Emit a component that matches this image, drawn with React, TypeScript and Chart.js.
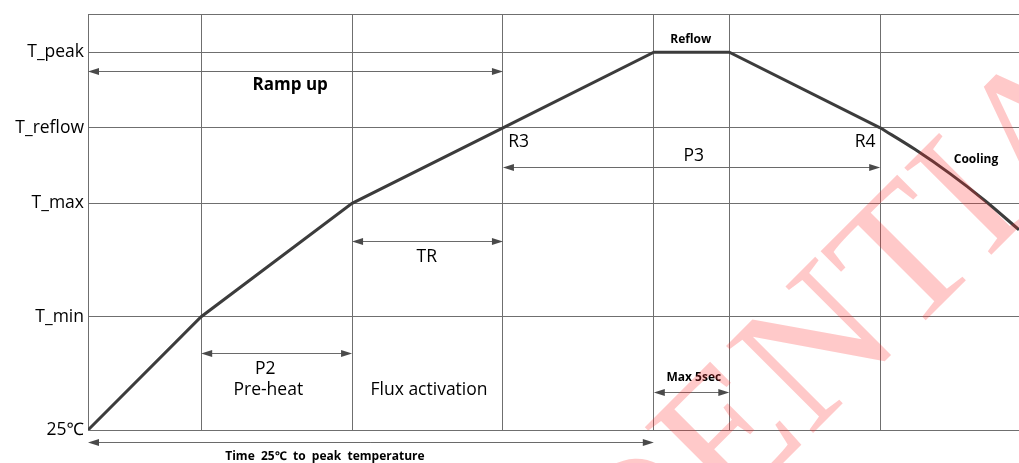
import { useEffect, useRef } from "react";
import { Chart, registerables } from "chart.js";
Chart.register(...registerables);

// Time axis (arbitrary units) — vertical grid positions
const xGrid = [0, 1.5, 3.5, 5.5, 7.5, 8.5, 10.5];
const xMax = 12.34;
// Temperature axis levels and labels
const yTicks = [0, 3, 6, 8, 10, 11];
const yLabels = ["25℃", "T_min", "T_max", "T_reflow", "T_peak", ""];
// Reflow profile (straight segments)
const profileX = [0, 1.5, 3.5, 5.5, 7.5, 8.5, 10.5];
const profileY = [0, 3, 6, 8, 10, 10, 8];
// Cooling curve
const coolingX = [10.5, 10.96, 11.43, 11.89, 12.34];
const coolingY = [8, 7.43, 6.78, 6.07, 5.3];
// Double-headed arrows: [x from, x to, y]
const arrowFrom = [0, 5.5, 3.5, 1.5, 7.5, 0];
const arrowTo = [5.5, 10.5, 5.5, 3.5, 8.5, 7.5];
const arrowY = [9.5, 6.97, 5.0, 2.03, 1.0, -0.32];
// Annotation texts
const noteText = ["Ramp up", "Reflow", "R3", "P3", "R4", "Cooling", "TR", "P2", "Pre-heat", "Flux activation", "Max 5sec", "Time  25℃  to  peak  temperature"];
const noteX = [2.68, 7.99, 5.57, 8.03, 10.3, 11.77, 4.49, 2.35, 2.39, 4.52, 8.03, 3.14];
const noteY = [9.13, 10.34, 7.62, 7.26, 7.62, 7.15, 4.59, 1.61, 1.06, 1.06, 1.40, -0.71];
const noteBold = [true, true, false, false, false, true, false, false, false, false, true, true];
const noteSize = [17, 12, 17.5, 17.5, 17.5, 12, 17.5, 17.5, 17.5, 17.5, 12, 12];
const noteAlign = ["center", "center", "left", "center", "center", "center", "center", "center", "center", "center", "center", "center"];
const watermark = "CONFIDENTIAL";

const FONT = "'Open Sans', 'Noto Sans', sans-serif";

export default function App() {
  const ref = useRef<HTMLCanvasElement | null>(null);
  useEffect(() => {
    document.body.style.margin = "0";
    const canvas = ref.current!;
    const annot = {
      id: "annot",
      afterDatasetsDraw(chart: any) {
        const ctx = chart.ctx as CanvasRenderingContext2D;
        const xs = chart.scales.x;
        const ys = chart.scales.y;
        ctx.save();
        // arrows
        for (let i = 0; i < arrowY.length; i++) {
          const x1 = xs.getPixelForValue(arrowFrom[i]);
          const x2 = xs.getPixelForValue(arrowTo[i]);
          const y = Math.round(ys.getPixelForValue(arrowY[i])) + 0.5;
          ctx.strokeStyle = "#6a6a6a";
          ctx.lineWidth = 1;
          ctx.beginPath();
          ctx.moveTo(x1 + 4, y);
          ctx.lineTo(x2 - 4, y);
          ctx.stroke();
          ctx.fillStyle = "#4a4a4a";
          const hl = 11, hw = 3.5;
          ctx.beginPath();
          ctx.moveTo(x1, y);
          ctx.lineTo(x1 + hl, y - hw);
          ctx.lineTo(x1 + hl, y + hw);
          ctx.closePath();
          ctx.fill();
          ctx.beginPath();
          ctx.moveTo(x2, y);
          ctx.lineTo(x2 - hl, y - hw);
          ctx.lineTo(x2 - hl, y + hw);
          ctx.closePath();
          ctx.fill();
        }
        // texts
        ctx.fillStyle = "#000";
        ctx.textBaseline = "middle";
        for (let i = 0; i < noteText.length; i++) {
          ctx.font = `${noteBold[i] ? "bold " : ""}${noteSize[i]}px ${FONT}`;
          ctx.textAlign = noteAlign[i] as CanvasTextAlign;
          ctx.fillText(noteText[i], xs.getPixelForValue(noteX[i]), ys.getPixelForValue(noteY[i]));
        }
        ctx.restore();
      },
      afterDraw(chart: any) {
        const ctx = chart.ctx as CanvasRenderingContext2D;
        ctx.save();
        ctx.font = "188px 'Liberation Serif', 'DejaVu Serif', serif";
        ctx.fillStyle = "rgba(255, 40, 40, 0.25)";
        ctx.textBaseline = "alphabetic";
        ctx.textAlign = "left";
        const pre = ctx.measureText("CONFID").width;
        ctx.translate(728, 518);
        ctx.rotate((-45 * Math.PI) / 180);
        ctx.fillText(watermark, -pre, 0);
        ctx.restore();
      },
    };
    const chart = new Chart(canvas, {
      type: "line",
      data: {
        datasets: [
          {
            data: profileX.map((x, i) => ({ x, y: profileY[i] })),
            borderColor: "#3c3c3c",
            borderWidth: 3,
            pointRadius: 0,
            tension: 0,
          },
          {
            data: coolingX.map((x, i) => ({ x, y: coolingY[i] })),
            borderColor: "#3c3c3c",
            borderWidth: 3,
            pointRadius: 0,
            cubicInterpolationMode: "monotone",
          },
        ],
      },
      options: {
        animation: false,
        responsive: false,
        maintainAspectRatio: false,
        layout: { padding: { top: 13, bottom: 33, left: 0, right: 0 } },
        plugins: { legend: { display: false }, tooltip: { enabled: false } },
        scales: {
          x: {
            type: "linear",
            min: 0,
            max: xMax,
            afterBuildTicks: (s: any) => {
              s.ticks = xGrid.map((v) => ({ value: v }));
            },
            afterFit: (s: any) => {
              s.height = 0;
            },
            ticks: { display: false },
            grid: { color: "#6f6f6f", lineWidth: 1, drawTicks: false },
            border: { display: true, color: "#6f6f6f" },
          },
          y: {
            type: "linear",
            min: 0,
            max: 11,
            afterBuildTicks: (s: any) => {
              s.ticks = yTicks.map((v) => ({ value: v }));
            },
            afterFit: (s: any) => {
              s.width = 88;
            },
            ticks: {
              color: "#000",
              padding: 4,
              font: { family: FONT, size: 17.5 },
              callback: (v: any) => {
                const i = yTicks.indexOf(Number(v));
                return i >= 0 ? yLabels[i] : "";
              },
            },
            grid: { color: "#6f6f6f", lineWidth: 1, drawTicks: false },
            border: { display: true, color: "#6f6f6f" },
          },
        },
      },
      plugins: [annot],
    } as any);
    return () => chart.destroy();
  }, []);
  return <canvas ref={ref} width={1019} height={463} style={{ display: "block" }} />;
}
